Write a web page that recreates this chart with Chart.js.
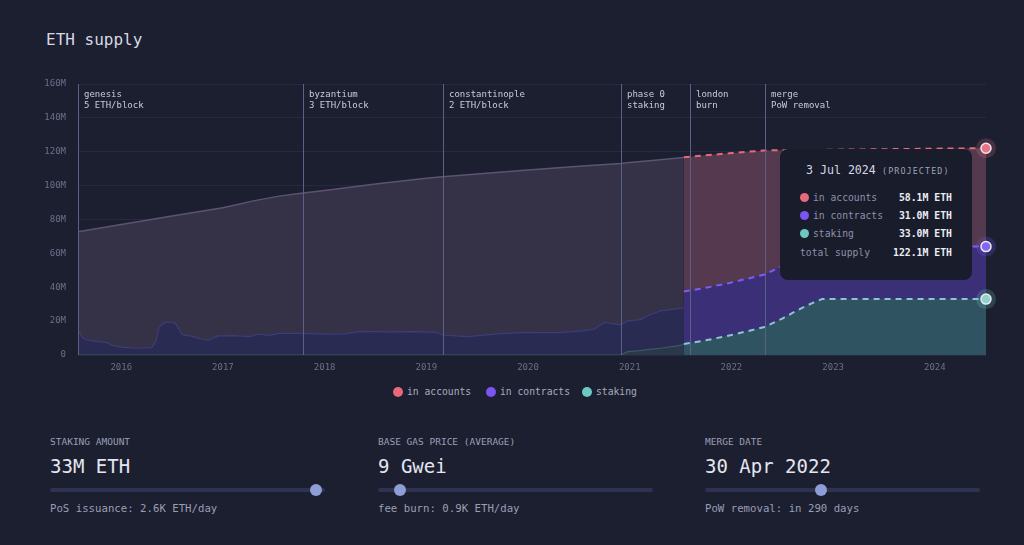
<!DOCTYPE html>
<html><head><meta charset="utf-8">
<script src="https://cdn.jsdelivr.net/npm/chart.js@4.4.1/dist/chart.umd.min.js"></script>
<style>
html,body{margin:0;padding:0;background:#1c1f30;width:1024px;height:545px;overflow:hidden;font-family:"DejaVu Sans Mono",monospace;}
#wrap{position:relative;width:1024px;height:545px;}
#c{position:absolute;left:0;top:0;}
.t{position:absolute;white-space:nowrap;line-height:1;}
#tip{position:absolute;left:780px;top:149px;width:192px;height:131px;background:#191c2b;border-radius:8px;}
.dot{position:absolute;border-radius:50%;}
.track{position:absolute;height:4px;border-radius:2px;background:#2e3352;}
.thumb{position:absolute;width:12px;height:12px;border-radius:50%;background:#8d9dd6;}
</style></head><body>
<div id="wrap">
<div class="t" style="left:46px;top:32px;font-size:16px;color:#d6d8e4;">ETH supply</div>
<canvas id="c" width="1024" height="380"></canvas>
<div id="legend"></div>
<div id="tip"></div>
<div id="controls"></div>
</div>
<script>
// ---------- data (decimal years, values in millions of ETH) ----------
const tickYears = [2016, 2017, 2018, 2019, 2020, 2021, 2022, 2023, 2024];
const yTickValues = [0, 20, 40, 60, 80, 100, 120, 140, 160];
const xStart = 2015.575;   // genesis, 30 Jul 2015
const xEnd = 2024.503;     // 3 Jul 2024

const eventDates = [2015.575, 2017.789, 2019.159, 2020.915, 2021.592, 2022.326];
const eventNames = ['genesis', 'byzantium', 'constantinople', 'phase 0', 'london', 'merge'];
const eventNotes = ['5 ETH/block', '3 ETH/block', '2 ETH/block', 'staking', 'burn', 'PoW removal'];

const seriesNames = ['in accounts', 'in contracts', 'staking'];

// historical total supply
const supplyDates = [2015.575, 2016.0, 2016.5, 2017.0, 2017.3, 2017.55, 2017.789, 2018.06, 2018.5, 2019.0, 2019.159, 2019.5, 2020.0, 2020.5, 2020.915, 2021.0, 2021.3, 2021.532];
const histSupply  = [72.7, 77.0, 82.0, 87.0, 91.0, 93.8, 95.6, 97.6, 100.9, 104.3, 105.3, 106.8, 109.2, 111.4, 113.1, 113.6, 115.3, 116.6];

// historical contracts and staking
const histDates = [2015.575, 2015.59, 2015.62, 2015.66, 2015.75, 2015.85, 2015.92, 2016.0, 2016.15, 2016.3, 2016.34, 2016.37, 2016.41, 2016.45, 2016.53, 2016.57, 2016.6, 2016.7, 2016.78, 2016.86, 2016.95, 2017.1, 2017.26, 2017.35, 2017.45, 2017.55, 2017.8, 2018.0, 2018.2, 2018.35, 2018.6, 2018.9, 2019.1, 2019.16, 2019.4, 2019.7, 2019.95, 2020.3, 2020.55, 2020.65, 2020.75, 2020.915, 2020.98, 2021.1, 2021.2, 2021.3, 2021.45, 2021.532];
const histContracts = [12.0, 13.5, 10.0, 9.0, 8.0, 7.5, 5.5, 4.6, 4.0, 4.4, 8.0, 16.0, 18.5, 19.6, 19.0, 15.0, 12.0, 11.0, 9.6, 8.7, 11.3, 11.4, 10.8, 12.4, 11.6, 12.8, 12.8, 12.3, 12.5, 14.0, 13.6, 13.8, 13.4, 11.8, 10.9, 12.5, 13.3, 13.2, 14.4, 15.2, 19.2, 17.8, 18.2, 18.3, 20.5, 22.0, 22.0, 21.6];
const histStaking   = [0, 0, 0, 0, 0, 0, 0, 0, 0, 0, 0, 0, 0, 0, 0, 0, 0, 0, 0, 0, 0, 0, 0, 0, 0, 0, 0, 0, 0, 0, 0, 0, 0, 0, 0, 0, 0, 0, 0, 0, 0, 0, 2.0, 2.6, 3.3, 4.0, 5.2, 6.2];

// projection
const projDates     = [2021.532, 2021.75, 2022.0, 2022.326, 2022.5, 2022.6, 2022.7, 2022.8, 2022.89, 2023.0, 2023.5, 2024.0, 2024.503];
const projStaking   = [6.5, 8.7, 11.8, 16.5, 21.5, 24.8, 28.0, 30.8, 33.0, 33.0, 33.0, 33.0, 33.0];
const projContracts = [31.0, 31.0, 31.0, 31.0, 31.0, 31.0, 31.0, 31.0, 31.0, 31.0, 31.0, 31.0, 31.0];
const projAccounts  = [79.3, 78.2, 76.4, 73.3, 68.4, 65.2, 62.0, 59.3, 57.1, 57.2, 57.5, 57.8, 58.1];

const tooltipDate = '3 Jul 2024';
const controlLabels = ['STAKING AMOUNT', 'BASE GAS PRICE (AVERAGE)', 'MERGE DATE'];
const controlValues = ['33M ETH', '9 Gwei', '30 Apr 2022'];
const controlNotes  = ['PoS issuance: 2.6K ETH/day', 'fee burn: 0.9K ETH/day', 'PoW removal: in 290 days'];
const controlPositions = [0.967, 0.08, 0.42];

// ---------- styles ----------
const FONT = '"DejaVu Sans Mono", monospace';
const seriesColors = ['#e8697b', '#7a55f2', '#6cc8c0'];
const pointFill = ['#ec7386', '#8466f4', '#8fd3c9'];
const haloFill = ['rgba(232,105,123,0.22)', 'rgba(122,85,242,0.22)', 'rgba(108,200,192,0.22)'];

const pts = (xs, ys) => xs.map((x, i) => ({x, y: ys[i]}));
const histContractsTop = histContracts.map((v, i) => v + histStaking[i]);
const projContractsTop = projContracts.map((v, i) => v + projStaking[i]);
const projTotal = projAccounts.map((v, i) => v + projContractsTop[i]);

const base = {fill: 'origin', pointRadius: 0, tension: 0, borderJoinStyle: 'round'};
const datasets = [
  {...base, label: 'hist supply', data: pts(supplyDates, histSupply), backgroundColor: '#353146', borderColor: '#5b5472', borderWidth: 1.5, order: 6},
  {...base, label: 'hist contracts', data: pts(histDates, histContractsTop), backgroundColor: '#2a2b52', borderColor: '#3d3d78', borderWidth: 1.2, order: 5},
  {...base, label: 'hist staking', data: pts(histDates, histStaking), backgroundColor: '#29394a', borderColor: '#3b5866', borderWidth: 1.2, order: 4},
  {...base, label: seriesNames[0], data: pts(projDates, projTotal), backgroundColor: '#553a4f', borderColor: seriesColors[0], borderWidth: 2, borderDash: [6, 5], order: 3},
  {...base, label: seriesNames[1], data: pts(projDates, projContractsTop), backgroundColor: '#3b2f78', borderColor: '#7c5cf5', borderWidth: 2, borderDash: [6, 5], order: 2},
  {...base, label: seriesNames[2], data: pts(projDates, projStaking), backgroundColor: '#2f5360', borderColor: '#8cc6d2', borderWidth: 2, borderDash: [6, 5], order: 1}
];

const eventPlugin = {
  id: 'events',
  afterDatasetsDraw(chart) {
    const {ctx, chartArea: a, scales: {x}} = chart;
    ctx.save();
    ctx.font = '9px ' + FONT;
    ctx.textBaseline = 'middle';
    eventDates.forEach((d, i) => {
      const px = Math.round(x.getPixelForValue(d)) + 0.5;
      ctx.strokeStyle = '#596185';
      ctx.lineWidth = 1;
      ctx.beginPath(); ctx.moveTo(px, a.top); ctx.lineTo(px, a.bottom); ctx.stroke();
      ctx.fillStyle = '#c9ccd9';
      ctx.fillText(eventNames[i], px + 5.5, a.top + 11);
      ctx.fillText(eventNotes[i], px + 5.5, a.top + 22);
    });
    ctx.restore();
  }
};

const endPointPlugin = {
  id: 'endpoints',
  afterDatasetsDraw(chart) {
    const {ctx} = chart;
    ctx.save();
    [3, 4, 5].forEach((di, k) => {
      const meta = chart.getDatasetMeta(di);
      const el = meta.data[meta.data.length - 1];
      ctx.fillStyle = haloFill[k];
      ctx.beginPath(); ctx.arc(el.x, el.y, 10, 0, Math.PI * 2); ctx.fill();
      ctx.fillStyle = pointFill[k];
      ctx.strokeStyle = '#e9e9f4';
      ctx.lineWidth = 1.5;
      ctx.beginPath(); ctx.arc(el.x, el.y, 5, 0, Math.PI * 2); ctx.fill(); ctx.stroke();
    });
    ctx.restore();
  }
};

new Chart(document.getElementById('c'), {
  type: 'line',
  data: {datasets},
  options: {
    responsive: false,
    animation: false,
    events: [],
    devicePixelRatio: 1,
    layout: {padding: {top: 84, right: 38, left: 0, bottom: 0}},
    plugins: {legend: {display: false}, tooltip: {enabled: false}},
    scales: {
      x: {
        type: 'linear', min: xStart, max: xEnd,
        grid: {display: false, drawTicks: false}, border: {display: false},
        afterBuildTicks: s => { s.ticks = tickYears.map(v => ({value: v})); },
        afterFit: s => { s.height = 25; },
        ticks: {color: '#6b7089', font: {family: FONT, size: 9}, padding: 7, autoSkip: false, maxRotation: 0, callback: v => String(v)}
      },
      y: {
        min: 0, max: 160,
        grid: {color: '#262a3e', drawTicks: false}, border: {display: false},
        afterBuildTicks: s => { s.ticks = yTickValues.map(v => ({value: v})); },
        afterFit: s => { s.width = 78; },
        ticks: {color: '#6b7089', font: {family: FONT, size: 9}, padding: 12, callback: v => v === 0 ? '0' : v + 'M'}
      }
    }
  },
  plugins: [eventPlugin, endPointPlugin]
});

// ---------- legend ----------
const legendX = [393, 486, 582];
const legend = document.getElementById('legend');
seriesNames.forEach((n, i) => {
  legend.insertAdjacentHTML('beforeend',
    `<div class="dot" style="left:${legendX[i]}px;top:387px;width:10px;height:10px;background:${seriesColors[i]}"></div>` +
    `<div class="t" style="left:${legendX[i] + 14}px;top:387px;font-size:9.7px;color:#a7abbf;">${n}</div>`);
});

// ---------- tooltip ----------
const last = projDates.length - 1;
const tipValues = [projAccounts[last], projContracts[last], projStaking[last]];
const tip = document.getElementById('tip');
let html = `<div class="t" style="left:26px;top:16px;font-size:11.6px;color:#d5d7e3;">${tooltipDate}</div>` +
  `<div class="t" style="left:102px;top:18px;font-size:8.4px;letter-spacing:1.1px;color:#9ea2b8;">(PROJECTED)</div>`;
seriesNames.forEach((n, i) => {
  const y = 44 + i * 18;
  html += `<div class="dot" style="left:20px;top:${y}px;width:9px;height:9px;background:${seriesColors[i]}"></div>` +
    `<div class="t" style="left:33px;top:${y}px;font-size:9.7px;color:#8d91a7;">${n}</div>` +
    `<div class="t" style="right:20px;top:${y}px;font-size:9.8px;font-weight:bold;color:#eceef5;">${tipValues[i].toFixed(1)}M ETH</div>`;
});
const tot = tipValues.reduce((a, b) => a + b, 0);
html += `<div class="t" style="left:20px;top:99px;font-size:9.7px;color:#8d91a7;">total supply</div>` +
  `<div class="t" style="right:20px;top:99px;font-size:9.8px;font-weight:bold;color:#eceef5;">${tot.toFixed(1)}M ETH</div>`;
tip.innerHTML = html;

// ---------- controls ----------
const controlX = [50, 378, 705];
const controls = document.getElementById('controls');
controlLabels.forEach((l, i) => {
  const x0 = controlX[i];
  const thumbX = x0 + controlPositions[i] * 275;
  controls.insertAdjacentHTML('beforeend',
    `<div class="t" style="left:${x0}px;top:437px;font-size:9.5px;color:#9a9eb4;">${l}</div>` +
    `<div class="t" style="left:${x0}px;top:457px;font-size:19px;color:#e4e6ef;">${controlValues[i]}</div>` +
    `<div class="track" style="left:${x0}px;top:488px;width:275px;"></div>` +
    `<div class="thumb" style="left:${thumbX - 6}px;top:484px;"></div>` +
    `<div class="t" style="left:${x0}px;top:504px;font-size:10.7px;color:#9a9eb4;">${controlNotes[i]}</div>`);
});
</script>
</body></html>
